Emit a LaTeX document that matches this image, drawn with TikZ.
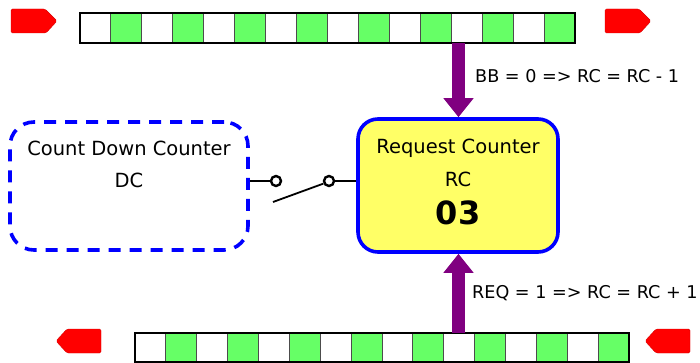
\documentclass[tikz,border=0pt]{standalone}
\usepackage{fontspec}
\setmainfont{DejaVu Sans}
\usetikzlibrary{arrows.meta}

\definecolor{cellgreen}{HTML}{66FF66}
\definecolor{boxyellow}{HTML}{FFFF66}
\definecolor{tagred}{HTML}{FF0000}
\definecolor{flowpurple}{HTML}{800080}
\definecolor{edgeblue}{HTML}{0000FF}

\tikzset{
  cellbox/.style={draw=black!70, line width=0.9pt},
  stripframe/.style={draw=black, line width=1.6pt},
  tagshape/.style={fill=tagred, draw=tagred!85!black, line width=0.4pt},
  flowarrow/.style={draw=flowpurple, line width=13pt,
    -{Triangle[width=29pt,length=19pt]}},
  counterbox/.style={draw=edgeblue, fill=boxyellow, line width=3.6pt,
    rounded corners=20pt, minimum width=200pt, minimum height=133pt, inner sep=0pt},
  dcbox/.style={draw=edgeblue, line width=3.6pt, dash pattern=on 12pt off 9pt,
    rounded corners=24pt, minimum width=238pt, minimum height=128pt, inner sep=0pt},
  contact/.style={circle, draw=black, line width=2.4pt, minimum size=10pt, inner sep=0pt, fill=white},
  wire/.style={draw=black, line width=1.8pt},
  lbl/.style={inner sep=0pt, font=\fontsize{19.5}{22}\selectfont},
  eqlbl/.style={inner sep=0pt, anchor=west, font=\fontsize{17.6}{21}\selectfont},
}

\begin{document}
\begin{tikzpicture}[x=1pt, y=-1pt]
\useasboundingbox (0,0) rectangle (700,363);

% upper data strip: 16 cells, starting with white
\foreach \i in {0,...,15} {
  \pgfmathtruncatemacro{\odd}{mod(\i,2)}
  \ifnum\odd=1
    \path[cellbox, fill=cellgreen] ({80+\i*30.94},13) rectangle ({80+(\i+1)*30.94},43);
  \else
    \path[cellbox, fill=white] ({80+\i*30.94},13) rectangle ({80+(\i+1)*30.94},43);
  \fi
}
\path[stripframe] (80,13) rectangle (575,43);

% lower data strip
\foreach \i in {0,...,15} {
  \pgfmathtruncatemacro{\odd}{mod(\i,2)}
  \ifnum\odd=1
    \path[cellbox, fill=cellgreen] ({135+\i*30.88},333) rectangle ({135+(\i+1)*30.88},362);
  \else
    \path[cellbox, fill=white] ({135+\i*30.88},333) rectangle ({135+(\i+1)*30.88},362);
  \fi
}
\path[stripframe] (135,333) rectangle (629,362);

% direction tags
\path[tagshape, rounded corners=1.5pt] (11,9) -- (45,9) -- (57,21) -- (46,33) -- (11,33) -- cycle;
\path[tagshape, rounded corners=1.5pt] (605,9) -- (639,9) -- (651,21) -- (640,33) -- (605,33) -- cycle;
\path[tagshape, rounded corners=1.5pt] (101,329) -- (67,329) -- (56,341) -- (67,353) -- (101,353) -- cycle;
\path[tagshape, rounded corners=1.5pt] (690,329) -- (656,329) -- (645,341) -- (656,353) -- (690,353) -- cycle;

% counters
\node[counterbox] (rc) at (458,185.5) {};
\node[lbl] (rcname) at (458,148) {Request Counter};
\node[lbl] (rcshort) at (458,179) {RC};
\node[inner sep=0pt, font=\fontsize{32}{36}\bfseries\selectfont] (rcval) at (458,213) {03};

\node[dcbox] (dc) at (129,186) {};
\node[lbl] (dcname) at (129,148) {Count Down Counter};
\node[lbl] (dcshort) at (129,180) {DC};

% switch between the counters
\node[contact] (s1) at (276,181) {};
\node[contact] (s2) at (329,181) {};
\coordinate (blade) at (273,202);
\draw[wire] (s1 -| dc.east) -- (s1.west);
\draw[wire] (s2.east) -- (s2 -| rc.west);
\draw[wire] (blade) -- (s2.205);

% flow arrows
\coordinate (topsrc) at (458.5,43);
\coordinate (botsrc) at (458.5,333);
\draw[flowarrow] (topsrc) -- (rc.north -| topsrc);
\draw[flowarrow] (botsrc) -- (rc.south -| botsrc);

\node[eqlbl] (bbrule) at (475,76) {BB = 0 => RC = RC - 1};
\node[eqlbl] (reqrule) at (472,293) {REQ = 1 => RC = RC + 1};
\end{tikzpicture}
\end{document}
